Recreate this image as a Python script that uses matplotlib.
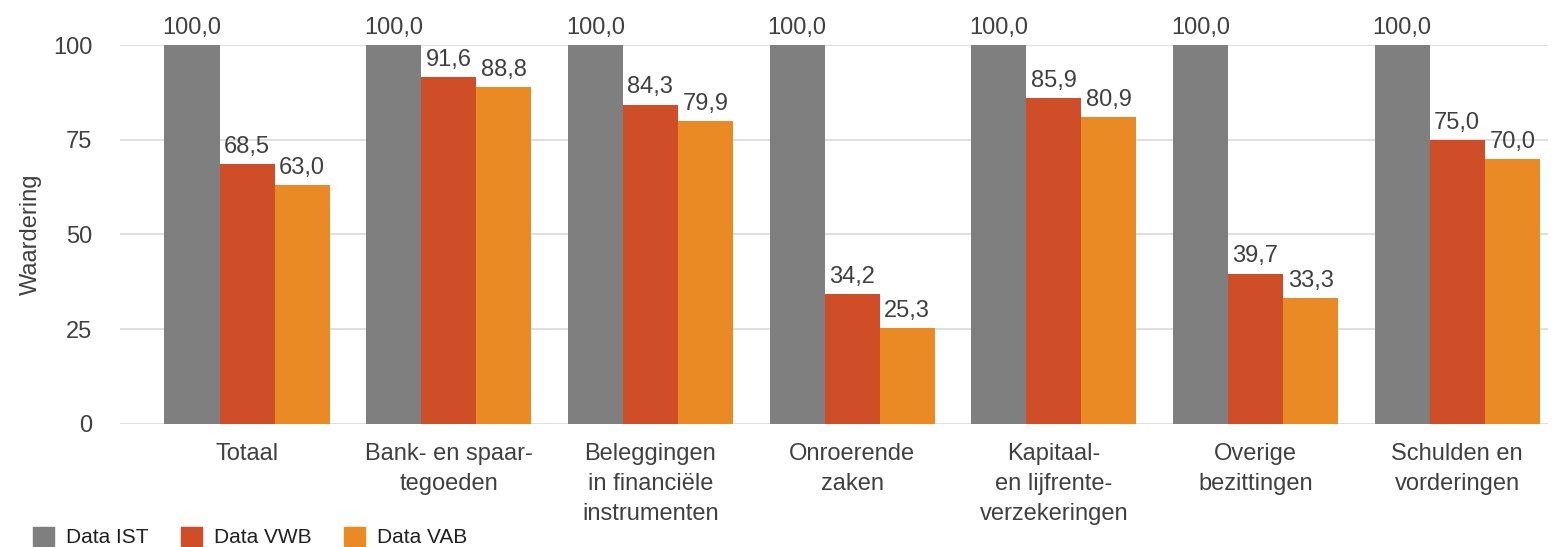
import numpy as np
import matplotlib.pyplot as plt
from matplotlib.patches import Patch

plt.rcParams['font.family'] = ['Liberation Sans', 'DejaVu Sans']

categories = ['Totaal', 'Bank- en spaar-\ntegoeden', 'Beleggingen\nin financiële\ninstrumenten',
              'Onroerende\nzaken', 'Kapitaal-\nen lijfrente-\nverzekeringen', 'Overige\nbezittingen',
              'Schulden en\nvorderingen']
series_names = ['Data IST', 'Data VWB', 'Data VAB']
ist = [100.0, 100.0, 100.0, 100.0, 100.0, 100.0, 100.0]
vwb = [68.5, 91.6, 84.3, 34.2, 85.9, 39.7, 75.0]
vab = [63.0, 88.8, 79.9, 25.3, 80.9, 33.3, 70.0]
colors = ['#7f7f7f', '#d04e27', '#ea8a24']
yticks = [0, 25, 50, 75, 100]

txt = '#404040'
fig = plt.figure(figsize=(15.52, 5.47), dpi=100)
ax = fig.add_axes([0.0773, 0.2249, 0.9201, 0.6928])

x = np.arange(len(categories))
w = 0.273
for k, (vals, c) in enumerate(zip([ist, vwb, vab], colors)):
    pos = x + (k - 1) * w
    ax.bar(pos, vals, width=w, color=c, zorder=3)
    for p, v in zip(pos, vals):
        ax.text(p, v + 1.6, f'{v:.1f}'.replace('.', ','), ha='center', va='bottom',
                fontsize=17, color=txt, clip_on=False)

ax.set_xlim(-0.63, 6.45)
ax.set_ylim(0, 100)
ax.set_yticks(yticks)
ax.set_yticklabels([str(t) for t in yticks], fontsize=17, color=txt)
ax.set_xticks(x)
ax.set_xticklabels(categories, fontsize=17, color=txt, va='top', linespacing=1.45)
ax.tick_params(axis='both', length=0)
ax.tick_params(axis='x', pad=14)
ax.tick_params(axis='y', pad=20)
ax.grid(axis='y', color='#d9d9d9', linewidth=1.2, zorder=0)
ax.set_axisbelow(True)
for s in ax.spines.values():
    s.set_visible(False)
ax.set_ylabel('Waardering', fontsize=17, color=txt)
ax.yaxis.set_label_coords(-0.055, 0.5)

handles = [Patch(color=c, label=n) for c, n in zip(colors, series_names)]
fig.legend(handles=handles, loc='lower left', bbox_to_anchor=(0.009, -0.035), ncol=3,
           frameon=False, fontsize=15, handlelength=1.0, handleheight=1.0,
           columnspacing=1.55, handletextpad=0.6, labelcolor='#202020')

fig.savefig('out.png', dpi=100)
